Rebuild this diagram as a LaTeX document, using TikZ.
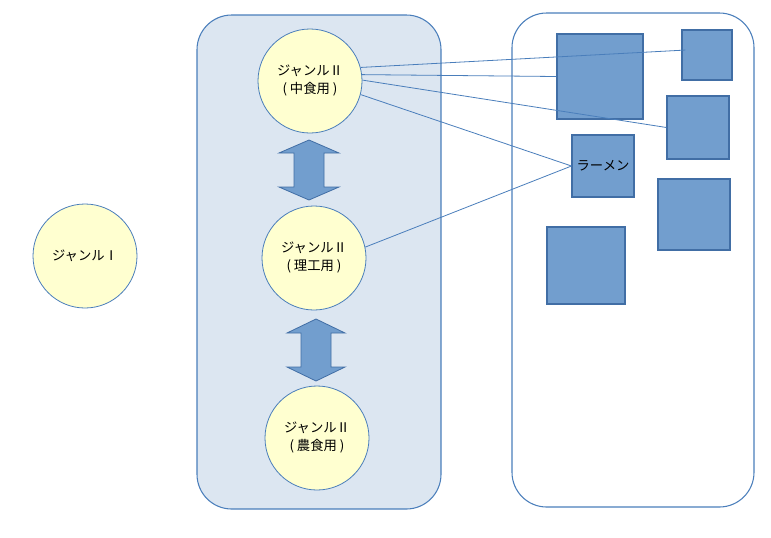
\documentclass[tikz,border=0pt]{standalone}
\usepackage{fontspec}
\newfontfamily\jpfont{Noto Sans CJK JP}
\usetikzlibrary{positioning}
\definecolor{lineblue}{RGB}{74,126,187}
\definecolor{blockedge}{RGB}{65,110,165}
\definecolor{blockfill}{RGB}{114,158,206}
\definecolor{panelfill}{RGB}{220,230,241}
\definecolor{paleyellow}{RGB}{255,255,208}

\begin{document}
\begin{tikzpicture}[
    x=0.75pt, y=-0.75pt,
    genre/.style={circle, draw=lineblue, fill=paleyellow, line width=0.6pt, minimum size=78pt, inner sep=0pt, align=center, font=\jpfont\fontsize{10}{13.5}\selectfont},
    block/.style={rectangle, draw=blockedge, fill=blockfill, line width=0.8pt, inner sep=0pt, font=\jpfont\fontsize{10}{12}\selectfont},
    panel/.style={draw=lineblue, line width=0.8pt, rounded corners=26pt},
    link/.style={draw=lineblue, line width=0.6pt},
    swap/.style={draw=blockedge, fill=blockfill, line width=0.6pt}
]
\useasboundingbox (0,0) rectangle (771,537);

% Panels
\draw[panel, fill=panelfill] (197,15) rectangle (441,509);
\draw[panel, fill=white] (512,13) rectangle (754,507);

% Genres
\node[genre] (genreOne) at (85,256) {ジャンルⅠ};
\node[genre] (naka) at (310,81) {ジャンルⅡ\\( 中食用 )};
\node[genre] (riko) at (314,258) {ジャンルⅡ\\( 理工用 )};
\node[genre] (nou) at (317,438) {ジャンルⅡ\\( 農食用 )};

% Double arrows
\coordinate (swapA) at (309,170);
\coordinate (swapB) at (316,350);
\draw[swap, shift={(swapA)}] (0,-30) -- (30,-17) -- (15,-17) -- (15,17) -- (30,17) -- (0,30)
    -- (-30,17) -- (-15,17) -- (-15,-17) -- (-30,-17) -- cycle;
\draw[swap, shift={(swapB)}] (0,-31) -- (29,-17) -- (15,-17) -- (15,17) -- (29,17) -- (0,31)
    -- (-29,17) -- (-15,17) -- (-15,-17) -- (-29,-17) -- cycle;

% Shops
\node[block, minimum width=64.5pt, minimum height=63.75pt] (bigSq) at (600,76.5) {};
\node[block, minimum width=37.5pt, minimum height=37.5pt] (sqTR) at (707,55) {};
\node[block, minimum width=46.5pt, minimum height=47.25pt] (sqR1) at (698,127.5) {};
\node[block, minimum width=46.5pt, minimum height=46.5pt] (ramen) at (603,166) {ラーメン};
\node[block, minimum width=54pt, minimum height=53.25pt] (sqR2) at (694,214.5) {};
\node[block, minimum width=58.5pt, minimum height=57.75pt] (sqL) at (586,265.5) {};

% Links
\draw[link] (naka.15) -- ([xshift=3pt]sqTR.169);
\draw[link] (naka.7) -- (bigSq.west);
\draw[link] (naka.1) -- (sqR1.west);
\draw[link] (naka.-15) -- (ramen.west);
\draw[link] (riko.12) -- (ramen.west);

\end{tikzpicture}
\end{document}
